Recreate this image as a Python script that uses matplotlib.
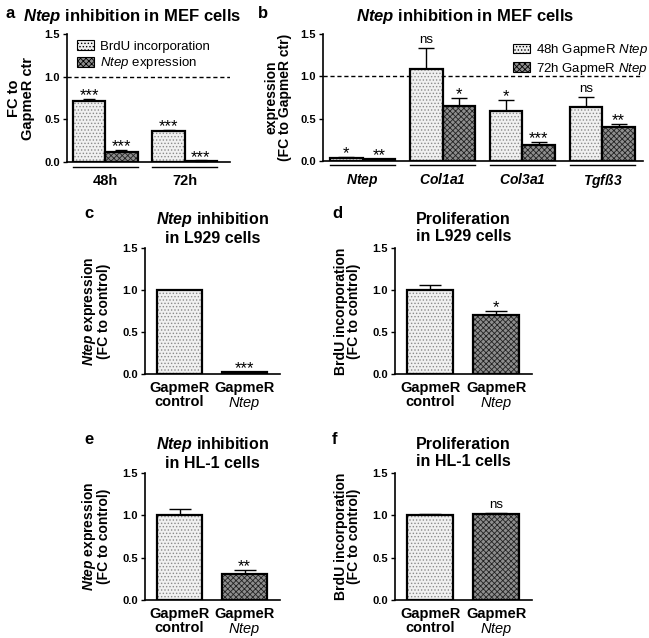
import numpy as np
import matplotlib
matplotlib.use("Agg")
import matplotlib.pyplot as plt
from matplotlib.patches import Patch

plt.rcParams['font.family'] = ['Liberation Sans', 'DejaVu Sans']
plt.rcParams['mathtext.fontset'] = 'custom'
plt.rcParams['mathtext.rm'] = 'Liberation Sans'
plt.rcParams['mathtext.it'] = 'Liberation Sans:italic'
plt.rcParams['mathtext.bf'] = 'Liberation Sans:bold'
plt.rcParams['mathtext.bfit'] = 'Liberation Sans:bold:italic'
plt.rcParams['hatch.linewidth'] = 0.6

# ---- data ----
# panel a
a_groups = ['48h', '72h']
a_brdu = [0.72, 0.36]
a_brdu_err = [0.015, 0.02]
a_ntep = [0.12, 0.015]
a_ntep_err = [0.02, 0.004]
a_brdu_sig = ['***', '***']
a_ntep_sig = ['***', '***']

# panel b
b_genes = [r'$\mathbfit{Ntep}$', r'$\mathbfit{Col1a1}$', r'$\mathbfit{Col3a1}$', r'$\mathbfit{Tgf\ss3}$']
b_48h = [0.04, 1.09, 0.59, 0.64]
b_48h_err = [0.01, 0.25, 0.13, 0.12]
b_72h = [0.02, 0.65, 0.19, 0.40]
b_72h_err = [0.005, 0.09, 0.03, 0.04]
b_48h_sig = ['*', 'ns', '*', 'ns']
b_72h_sig = ['**', '*', '***', '**']

# panels c-f
cf_labels = ['GapmeR\ncontrol', 'GapmeR\n' + r'$\it{Ntep}$']
c_vals, c_err, c_sig = [1.0, 0.02], [0.0, 0.003], ['', '***']
d_vals, d_err, d_sig = [1.0, 0.70], [0.06, 0.055], ['', '*']
e_vals, e_err, e_sig = [1.0, 0.31], [0.08, 0.05], ['', '**']
f_vals, f_err, f_sig = [1.0, 1.01], [0.02, 0.02], ['', 'ns']

LIGHT = dict(fc='#f0f0f0', hatch='.....', ec='#8a8a8a')
DARK = dict(fc='#8e8e8e', hatch='xxxxxx', ec='#222222')

W, H = 649, 638
fig = plt.figure(figsize=(W / 100, H / 100), dpi=100)


def add_ax(l, r, t, b):
    return fig.add_axes([l / W, 1 - b / H, (r - l) / W, (b - t) / H])


def style(ax):
    for s in ['top', 'right']:
        ax.spines[s].set_visible(False)
    for s in ['left', 'bottom']:
        ax.spines[s].set_linewidth(1.2)
    ax.set_ylim(0, 1.5)
    ax.set_yticks([0, 0.5, 1.0, 1.5])
    ax.set_yticklabels(['0.0', '0.5', '1.0', '1.5'], fontsize=8, fontweight='bold')
    ax.tick_params(axis='y', length=3, width=1.0, pad=2)
    ax.tick_params(axis='x', length=0)


def bars(ax, x, vals, errs, sty, width, sigs, cap):
    ax.bar(x, vals, width, color=sty['fc'], hatch=sty['hatch'], edgecolor=sty['ec'],
           linewidth=0, zorder=2)
    ax.bar(x, vals, width, fill=False, edgecolor='black', linewidth=1.6, zorder=3)
    ax.errorbar(x, vals, yerr=[np.zeros(len(errs)), errs], fmt='none', ecolor='black',
                elinewidth=1.0, capsize=cap, capthick=1.0, zorder=1)
    for xi, v, e, s in zip(x, vals, errs, sigs):
        if s == 'ns':
            ax.text(xi, v + e + 0.02, s, ha='center', va='bottom', fontsize=9.5)
        elif s:
            ax.text(xi, v + e - 0.05, s, ha='center', va='bottom', fontsize=12)


def legend(ax, labels, anchor):
    ax.legend(handles=[Patch(facecolor=LIGHT['fc'], hatch=LIGHT['hatch'], edgecolor='black', lw=0.8),
                       Patch(facecolor=DARK['fc'], hatch=DARK['hatch'], edgecolor='black', lw=0.8)],
              labels=labels, frameon=False, loc='upper left', bbox_to_anchor=anchor,
              fontsize=9.5, handlelength=1.3, handleheight=0.75, handletextpad=0.45,
              labelspacing=0.2, borderaxespad=0, borderpad=0)


# ---- panel a ----
ax = add_ax(67, 230, 34, 162)
style(ax)
ga = np.arange(len(a_groups)) * 2.46
bars(ax, ga, a_brdu, a_brdu_err, LIGHT, 1.0, a_brdu_sig, 4)
bars(ax, ga + 1, a_ntep, a_ntep_err, DARK, 1.0, a_ntep_sig, 4)
ax.set_xlim(-0.68, ga[-1] + 1.9)
ax.axhline(1.0, color='black', ls=(0, (3, 2)), lw=1.0, zorder=0)
ax.set_xticks([])
for g, lab in zip(ga, a_groups):
    ax.plot([g - 0.5, g + 1.5], [-0.055, -0.055], color='black', lw=1.0, clip_on=False)
    ax.text(g + 0.5, -0.14, lab, ha='center', va='top', fontsize=10.5, fontweight='bold')
ax.set_ylabel('FC to\nGapmeR ctr', fontsize=10.5, fontweight='bold', labelpad=7, linespacing=0.95)
legend(ax, ['BrdU incorporation', r'$\it{Ntep}$ expression'], (0.06, 0.95))
fig.text(132 / W, 1 - 17 / H, r'$\mathbfit{Ntep}$ inhibition in MEF cells', ha='center',
         va='center', fontsize=12, fontweight='bold')

# ---- panel b ----
ax = add_ax(323, 643, 34, 161)
style(ax)
gb = np.arange(len(b_genes)) * 2.46
bars(ax, gb, b_48h, b_48h_err, LIGHT, 1.0, b_48h_sig, 6)
bars(ax, gb + 1, b_72h, b_72h_err, DARK, 1.0, b_72h_sig, 6)
ax.set_xlim(-0.72, gb[-1] + 1.75)
ax.axhline(1.0, color='black', ls=(0, (3, 2)), lw=1.0, zorder=0)
ax.set_xticks([])
for g, lab in zip(gb, b_genes):
    ax.plot([g - 0.5, g + 1.5], [-0.05, -0.05], color='black', lw=1.0, clip_on=False)
    ax.text(g + 0.5, -0.13, lab, ha='center', va='top', fontsize=10)
ax.set_ylabel('expression\n(FC to GapmeR ctr)', fontsize=10, fontweight='bold', labelpad=6,
              linespacing=0.95)
legend(ax, ['48h GapmeR ' + r'$\it{Ntep}$', '72h GapmeR ' + r'$\it{Ntep}$'],
       ((513 - 323) / 320, 1 - (42 - 34) / 127))
fig.text(465 / W, 1 - 17 / H, r'$\mathbfit{Ntep}$ inhibition in MEF cells', ha='center',
         va='center', fontsize=12, fontweight='bold')


# ---- panels c-f ----
def small_panel(box, vals, errs, sigs, ylabel, title, letter, letter_xy):
    ax = add_ax(*box)
    style(ax)
    xs = np.array([0, 1.43])
    bars(ax, xs[:1], vals[:1], errs[:1], LIGHT, 1.0, sigs[:1], 8)
    bars(ax, xs[1:], vals[1:], errs[1:], DARK, 1.0, sigs[1:], 8)
    ax.set_xlim(-0.76, 2.21)
    ax.set_xticks(xs)
    ax.set_xticklabels(cf_labels, fontsize=10.5, fontweight='bold', linespacing=1.0)
    ax.tick_params(axis='x', pad=5)
    ax.set_ylabel(ylabel, fontsize=10, fontweight='bold', labelpad=8, linespacing=0.95)
    cx = (box[0] + box[1]) / 2
    fig.text(cx / W, 1 - (box[2] - 20) / H, title, ha='center', va='center', fontsize=11.5,
             fontweight='bold', linespacing=1.1)
    fig.text(letter_xy[0] / W, 1 - letter_xy[1] / H, letter, ha='left', va='center',
             fontsize=12, fontweight='bold')


small_panel((145, 280, 248, 374), c_vals, c_err, c_sig,
            r'$\mathbfit{Ntep}$ expression' + '\n(FC to control)',
            r'$\mathbfit{Ntep}$ inhibition' + '\nin L929 cells', 'c', (84, 213))
small_panel((395, 532, 248, 374), d_vals, d_err, d_sig,
            'BrdU incorporation\n(FC to control)',
            'Proliferation\nin L929 cells', 'd', (332, 213))
small_panel((145, 280, 473, 600), e_vals, e_err, e_sig,
            r'$\mathbfit{Ntep}$ expression' + '\n(FC to control)',
            r'$\mathbfit{Ntep}$ inhibition' + '\nin HL-1 cells', 'e', (84, 440))
small_panel((395, 532, 473, 600), f_vals, f_err, f_sig,
            'BrdU incorporation\n(FC to control)',
            'Proliferation\nin HL-1 cells', 'f', (332, 440))

fig.text(5 / W, 1 - 13 / H, 'a', ha='left', va='center', fontsize=12, fontweight='bold')
fig.text(258 / W, 1 - 13 / H, 'b', ha='left', va='center', fontsize=12, fontweight='bold')

fig.savefig('out.png', dpi=100)
